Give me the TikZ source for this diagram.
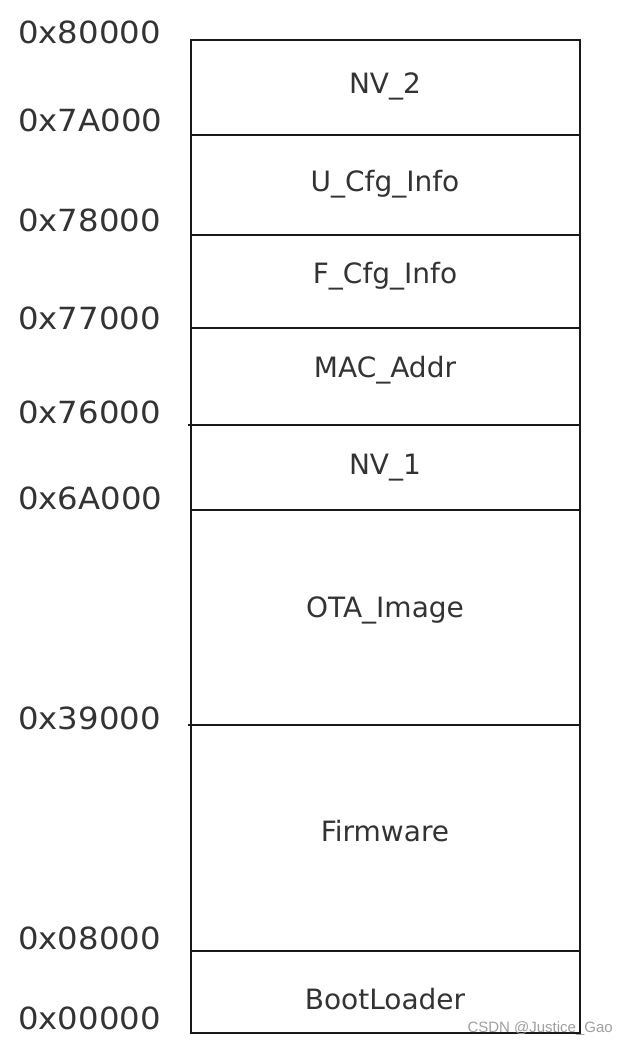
\documentclass[tikz,border=0pt]{standalone}
\usepackage{fontspec}
\setmainfont{DejaVu Sans}
\newfontfamily\wmfont{Liberation Sans}
\newfontfamily\addrfont[FakeStretch=1.06]{DejaVu Sans}
\usetikzlibrary{positioning}
\definecolor{TextGray}{RGB}{51,51,51}
\definecolor{LineBlack}{RGB}{25,25,25}
\tikzset{
  addr/.style={anchor=mid west,inner sep=0pt,text=TextGray,
               font=\addrfont\fontsize{30.5}{36}\selectfont},
  part/.style={anchor=mid,inner sep=0pt,text=TextGray,
               font=\fontsize{28}{34}\selectfont},
  divline/.style={LineBlack,line width=2.2pt},
}
\begin{document}
\begin{tikzpicture}[x=1pt,y=-1pt]
    \useasboundingbox (0,0) rectangle (629,1045);

    % Outline and partition lines
    \draw[divline] (191,40) rectangle (580,1033);
    \draw[divline] (191,135) -- (580,135);
    \draw[divline] (191,235) -- (580,235);
    \draw[divline] (191,328) -- (580,328);
    \draw[divline] (188,425) -- (580,425);
    \draw[divline] (191,510) -- (580,510);
    \draw[divline] (188,725) -- (580,725);
    \draw[divline] (191,951) -- (580,951);

    % Partitions
    \node[part] (nv2)  at (385,91)  {NV\_2};
    \node[part] (ucfg) at (385,189) {U\_Cfg\_Info};
    \node[part] (fcfg) at (385,281) {F\_Cfg\_Info};
    \node[part] (mac)  at (385,375) {MAC\_Addr};
    \node[part] (nv1)  at (385,472) {NV\_1};
    \node[part] (ota)  at (385,615) {OTA\_Image};
    \node[part] (fw)   at (385,839) {Firmware};
    \node[part] (boot) at (385,1007) {BootLoader};

    % Addresses
    \node[addr] (a80000) at (18,41)   {0x80000};
    \node[addr] (a7A000) at (18,129)  {0x7A000};
    \node[addr] (a78000) at (18,229)  {0x78000};
    \node[addr] (a77000) at (18,327)  {0x77000};
    \node[addr] (a76000) at (18,421)  {0x76000};
    \node[addr] (a6A000) at (18,507)  {0x6A000};
    \node[addr] (a39000) at (18,727)  {0x39000};
    \node[addr] (a08000) at (18,947)  {0x08000};
    \node[addr] (a00000) at (18,1027) {0x00000};

    % Watermark
    \node[anchor=mid east,inner sep=0pt,text=gray!75,
          font=\wmfont\fontsize{15}{17}\selectfont] (mark) at (613,1030) {CSDN @Justice\_Gao};
\end{tikzpicture}
\end{document}
